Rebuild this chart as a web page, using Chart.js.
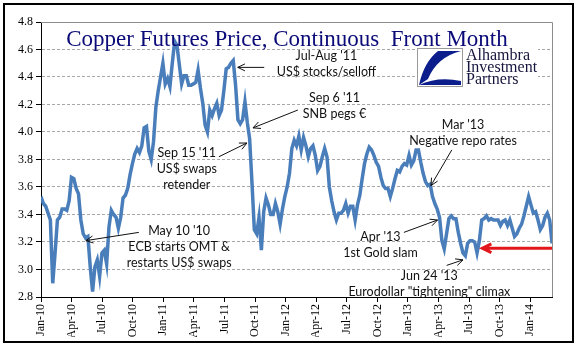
<!DOCTYPE html>
<html>
<head>
<meta charset="utf-8">
<title>Copper Futures Price, Continuous Front Month</title>
<script src="https://cdn.jsdelivr.net/npm/chart.js@4.4.1/dist/chart.umd.min.js"></script>
<style>
  html, body { margin: 0; padding: 0; background: #fff; }
  canvas { display: block; }
</style>
</head>
<body>
<canvas id="copperChart" width="577" height="361"></canvas>
<script>
// weekly front month copper ($/lb), first week of Jan 2010 onward
const prices = [
  3.53, 3.48, 3.46, 3.41, 3.36, 2.90, 3.12, 3.36, 3.38, 3.44,
  3.44, 3.43, 3.50, 3.67, 3.66, 3.59, 3.55, 3.36, 3.26, 3.23,
  3.24, 3.02, 2.84, 3.02, 3.07, 2.95, 3.12, 3.14, 3.04, 3.31,
  3.43, 3.40, 3.38, 3.30, 3.38, 3.52, 3.54, 3.59, 3.69, 3.77,
  3.84, 3.88, 3.85, 3.90, 4.03, 4.04, 3.86, 3.80, 3.93, 4.18,
  4.30, 4.40, 4.50, 4.35, 4.39, 4.33, 4.50, 4.66, 4.63, 4.49,
  4.35, 4.41, 4.41, 4.34, 4.34, 4.35, 4.36, 4.45, 4.32, 4.21,
  4.05, 4.00, 4.16, 4.12, 4.17, 4.21, 4.12, 4.16, 4.30, 4.46,
  4.47, 4.50, 4.52, 4.34, 4.09, 4.06, 4.09, 4.22, 4.07, 3.95,
  3.63, 3.29, 3.26, 3.38, 3.14, 3.42, 3.52, 3.47, 3.40, 3.40,
  3.48, 3.42, 3.33, 3.44, 3.53, 3.60, 3.70, 3.88, 3.94, 3.90,
  3.97, 3.87, 3.96, 3.90, 3.82, 3.88, 3.90, 3.83, 3.72, 3.75,
  3.82, 3.88, 3.82, 3.60, 3.50, 3.42, 3.36, 3.41, 3.41, 3.43,
  3.48, 3.41, 3.46, 3.46, 3.36, 3.47, 3.54, 3.66, 3.77, 3.84,
  3.89, 3.87, 3.83, 3.78, 3.75, 3.67, 3.61, 3.59, 3.59, 3.53,
  3.59, 3.66, 3.72, 3.71, 3.75, 3.77, 3.76, 3.83, 3.76, 3.79,
  3.87, 3.87, 3.78, 3.70, 3.64, 3.61, 3.62, 3.53, 3.48, 3.44,
  3.38, 3.21, 3.15, 3.26, 3.37, 3.39, 3.37, 3.37, 3.27, 3.19,
  3.12, 3.10, 3.19, 3.21, 3.21, 3.20, 3.12, 3.21, 3.36, 3.37,
  3.39, 3.36, 3.37, 3.36, 3.36, 3.36, 3.32, 3.35, 3.36, 3.32,
  3.36, 3.30, 3.24, 3.26, 3.30, 3.33, 3.39, 3.46, 3.53, 3.47,
  3.41, 3.42, 3.36, 3.29, 3.32, 3.38, 3.41, 3.36, 3.19
]

// quarterly ticks, in months since Jan 2010
const tickMonths = [0, 3, 6, 9, 12, 15, 18, 21, 24, 27, 30, 33, 36, 39, 42, 45, 48]
const tickLabels = ['Jan-10', 'Apr-10', 'Jul-10', 'Oct-10', 'Jan-11', 'Apr-11', 'Jul-11', 'Oct-11',
  'Jan-12', 'Apr-12', 'Jul-12', 'Oct-12', 'Jan-13', 'Apr-13', 'Jul-13', 'Oct-13', 'Jan-14']
const yTicks = [2.8, 3.0, 3.2, 3.4, 3.6, 3.8, 4.0, 4.2, 4.4, 4.6, 4.8]

const titleText = 'Copper Futures Price, Continuous  Front Month'
const logoLines = ['Alhambra', 'Investment', 'Partners']

// notes: text lines placed at (month, price), arrow from -> to in the same units
const notes = [
  { at: [28.0, 4.55], lines: ["Jul-Aug '11", 'US$ stocks/selloff'], arrow: [21.9, 4.47, 19.3, 4.47] },
  { at: [28.8, 4.25], lines: ["Sep 6 '11", 'SNB pegs €'], arrow: [25.2, 4.16, 20.8, 4.03] },
  { at: [14.3, 3.85], lines: ["Sep 15 '11", 'US$ swaps', 'retender'], arrow: [17.45, 3.82, 20.2, 3.92] },
  { at: [13.55, 3.28], lines: ["May 10 '10", 'ECB starts OMT &', 'restarts US$ swaps'], arrow: [9.6, 3.27, 4.4, 3.21] },
  { at: [41.4, 4.05], lines: ["Mar '13", 'Negative repo rates'], arrow: [40.3, 3.87, 38.25, 3.61] },
  { at: [33.3, 3.24], lines: ["Apr '13", '1st Gold slam'], arrow: [35.6, 3.27, 38.9, 3.36] },
  { at: [38.1, 2.95], lines: ["Jun 24 '13", 'Eurodollar "tightening" climax'], arrow: [39.8, 3.03, 41.4, 3.07] }
]

function drawArrow(ctx, x1, y1, x2, y2, head) {
    const ang = Math.atan2(y2 - y1, x2 - x1)
    ctx.beginPath()
    ctx.moveTo(x1, y1)
    ctx.lineTo(x2, y2)
    ctx.moveTo(x2 - head * Math.cos(ang - 0.45), y2 - head * Math.sin(ang - 0.45))
    ctx.lineTo(x2, y2)
    ctx.lineTo(x2 - head * Math.cos(ang + 0.45), y2 - head * Math.sin(ang + 0.45))
    ctx.stroke()
}

const chartDecor = {
    id: 'chartDecor',
    beforeDraw(chart) {
        const ctx = chart.ctx
        ctx.save()
        ctx.fillStyle = '#fff'
        ctx.fillRect(0, 0, chart.width, chart.height)
        ctx.restore()
    },
    afterDraw(chart) {
        const { ctx, chartArea: a, scales: { x, y } } = chart
        ctx.save()

        // plot area frame (top and right)
        ctx.strokeStyle = '#8c8c8c'
        ctx.lineWidth = 1
        ctx.beginPath()
        ctx.moveTo(a.left, a.top + 0.5)
        ctx.lineTo(a.right + 0.5, a.top + 0.5)
        ctx.lineTo(a.right + 0.5, a.bottom)
        ctx.stroke()

        // title
        ctx.fillStyle = '#0a0a78'
        ctx.font = '23px "Liberation Serif"'
        ctx.textAlign = 'center'
        ctx.textBaseline = 'alphabetic'
        ctx.fillText(titleText, 287, 46)

        // logo
        ctx.fillStyle = '#fff'
        ctx.fillRect(416, 47, 122, 41)
        ctx.strokeStyle = '#9a9a9a'
        ctx.strokeRect(417.5, 48.5, 45, 38)
        ctx.fillStyle = '#0b1e8c'
        ctx.beginPath()
        ctx.moveTo(438, 51)
        ctx.lineTo(461, 51)
        ctx.quadraticCurveTo(437, 57, 428, 79)
        ctx.lineTo(419, 85)
        ctx.quadraticCurveTo(424, 62, 438, 51)
        ctx.fill()
        ctx.beginPath()
        ctx.moveTo(419, 85)
        ctx.quadraticCurveTo(438, 76, 461, 81)
        ctx.lineTo(461, 85)
        ctx.closePath()
        ctx.fill()
        ctx.fillStyle = '#14143c'
        ctx.font = '16px "Liberation Serif"'
        ctx.textAlign = 'left'
        logoLines.forEach((t, i) => ctx.fillText(t, 466, 60 + i * 12))

        // notes
        ctx.fillStyle = '#111'
        ctx.strokeStyle = '#111'
        ctx.lineWidth = 1
        ctx.font = '12.5px Lato'
        ctx.textAlign = 'center'
        ctx.textBaseline = 'middle'
        notes.forEach(n => {
            const cx = x.getPixelForValue(n.at[0])
            const cy = y.getPixelForValue(n.at[1])
            n.lines.forEach((t, i) => ctx.fillText(t, cx, cy + i * 16))
            const [m1, p1, m2, p2] = n.arrow
            drawArrow(ctx, x.getPixelForValue(m1), y.getPixelForValue(p1),
                x.getPixelForValue(m2), y.getPixelForValue(p2), 8)
        })

        // red level arrow
        ctx.strokeStyle = '#e3161b'
        ctx.lineWidth = 3
        const ry = y.getPixelForValue(3.155)
        drawArrow(ctx, a.right, ry, x.getPixelForValue(43.3), ry, 10)

        // outer border
        ctx.strokeStyle = '#000'
        ctx.lineWidth = 2
        ctx.strokeRect(4, 4, 569, 338)
        ctx.restore()
    }
}

const ctx = document.getElementById('copperChart').getContext('2d')
const copperChart = new Chart(ctx, {
    type: 'line',
    data: {
        datasets: [{
            label: 'Copper front month',
            data: prices.map((p, i) => ({ x: i * 7 / 30.4375, y: p })),
            borderColor: '#4a7ebb',
            borderWidth: 3.5,
            pointRadius: 0,
            tension: 0,
            fill: false
        }]
    },
    options: {
        responsive: false,
        animation: false,
        devicePixelRatio: 1,
        layout: { padding: { left: 0, top: 22, right: 25, bottom: 24 } },
        plugins: {
            legend: { display: false },
            tooltip: { enabled: false }
        },
        scales: {
            x: {
                type: 'linear',
                min: 0,
                max: 50.13,
                afterBuildTicks: (scale) => { scale.ticks = tickMonths.map(v => ({ value: v })) },
                afterFit: (scale) => { scale.height = 40 },
                grid: { drawOnChartArea: false, tickLength: 5, tickColor: '#000' },
                border: { color: '#000', width: 1 },
                ticks: {
                    autoSkip: false,
                    minRotation: 90,
                    maxRotation: 90,
                    padding: 2,
                    color: '#000',
                    font: { family: '"Liberation Serif", serif', size: 12 },
                    callback: (value, index) => tickLabels[index]
                }
            },
            y: {
                min: 2.8,
                max: 4.8,
                afterBuildTicks: (scale) => { scale.ticks = yTicks.map(v => ({ value: v })) },
                afterFit: (scale) => { scale.width = 41 },
                grid: {
                    color: (c) => (c.tick && (c.tick.value <= 2.8 || c.tick.value >= 4.8)) ? 'rgba(0,0,0,0)' : '#a8a8a8',
                    tickLength: 5,
                    tickColor: '#000'
                },
                border: { color: '#000', width: 1, dash: [3, 2] },
                ticks: {
                    padding: 3,
                    color: '#000',
                    font: { family: '"Liberation Serif", serif', size: 12 },
                    callback: (value) => value.toFixed(1)
                }
            }
        }
    },
    plugins: [chartDecor]
})
</script>
</body>
</html>
